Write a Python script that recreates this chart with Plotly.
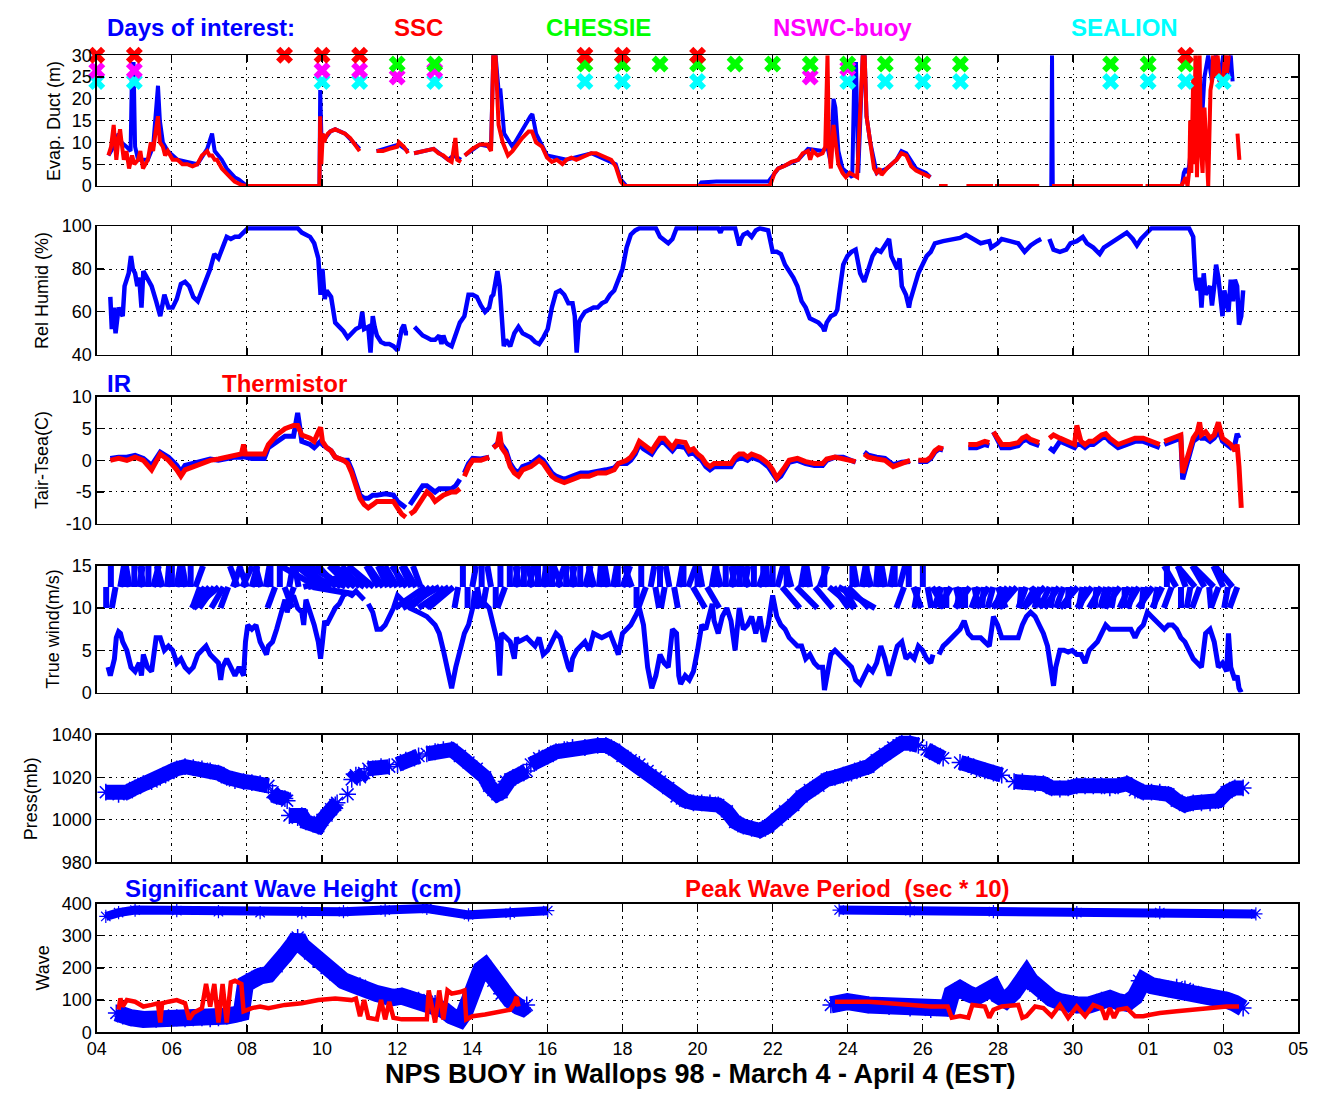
import numpy as np
import plotly.graph_objects as go

# ---------------- DATA (x = day of March; April n = 31 + n) ----------------
tick_days = [4, 6, 8, 10, 12, 14, 16, 18, 20, 22, 24, 26, 28, 30, 32, 34, 36]
tick_labels = ["04", "06", "08", "10", "12", "14", "16", "18", "20", "22", "24",
               "26", "28", "30", "01", "03", "05"]

# Days of interest
ssc_days = [4, 5, 9, 10, 11, 17, 18, 20, 33]
chessie_days = [12, 13, 17, 18, 19, 20, 21, 22, 23, 24, 25, 26, 27, 31, 32, 33]
nswc_days = [4, 5, 10, 11, 12, 13, 23, 24]
nswc_level = [26.5, 26.5, 26.5, 26.5, 25, 26.5, 25, 27]
sealion_days = [4, 5, 10, 11, 13, 17, 18, 20, 24, 25, 26, 27, 31, 32, 33, 34]

# Evaporation duct height (m) - red series
duct_t = [4.31, 4.38, 4.45, 4.52, 4.58, 4.62, 4.66, 4.72, 4.79, 4.86,
          4.94, 5.00, 5.10, 5.16, 5.23, 5.30, 5.36, 5.44, 5.50, 5.56,
          5.63, 5.68, 5.76, 5.82, 5.89, 6.02, 6.15, 6.28, 6.41, 6.55,
          6.68, 6.80, 6.94, 7.00, 7.07, 7.14, 7.20, 7.33, 7.46, 7.55,
          7.67, 7.78, 7.86, 7.99, 9.93,
          9.95, 9.98, 10.02, 10.06, 10.09, 10.15, 10.22, 10.35, 10.48, 10.61,
          10.75, 10.87, 11.00, None,
          11.45, 11.62, 11.79, 12.00, 12.05, 12.18, 12.29, None,
          12.45, 12.71, 12.97, 13.10, 13.23, 13.36, 13.45, 13.55, 13.60, 13.70, None,
          13.80, 14.00, 14.20, 14.40, 14.50, 14.56, 14.62, 14.70, 14.81, 14.95,
          15.07, 15.20, 15.33, 15.50, 15.59, 15.70, 15.86, 15.99, 16.12, 16.25,
          16.40, 16.51, 16.64, 16.77, 17.00, 17.17, 17.30, 17.45, 17.56, 17.70,
          17.82, 17.95, 18.05, 21.89,
          21.95, 22.05, 22.15, 22.30, 22.50, 22.68, 22.80, 22.94, 23.00, 23.07,
          23.20, 23.33, 23.40, 23.46, 23.50, 23.55, 23.62, 23.67, 23.75, 23.86,
          23.95, 24.05, 24.25, 24.40, 24.45, 24.50, 24.60, 24.70, 24.77, 24.85,
          24.90, 25.04, 25.17, 25.30, 25.43, 25.56, 25.69, 25.82, 25.95, 26.08,
          26.20, None,
          26.43, 26.66, None, 27.16, 27.87, None, 27.92, 29.10, None, 29.44, 31.86, None, 31.93, 32.88,
          32.95, 33.00, 33.05, 33.10, 33.12, 33.15, 33.20, 33.22, 33.26, 33.30,
          33.33, 33.37, 33.41, 33.45, 33.50, 33.55, 33.60, 33.66, 33.70, 33.73,
          33.78, 33.85, 33.92, 34.00, 34.05, 34.10, 34.15, None, 34.38, 34.41, 34.43]
duct_red = [7, 9, 14, 6, 11, 13, 10, 6, 8, 4,
            7, 5, 6, 8, 4, 5, 6, 10, 8, 12,
            16, 10, 9, 7, 8, 6, 6, 5, 5, 4.5,
            5, 7, 8, 7, 7, 6, 6, 4, 3, 2,
            1, 0.5, 0.2, 0, 0,
            16, 5, 12, 10, 11, 12, 12.5, 13, 12.5, 12,
            11, 9.5, 8, None,
            8, 8, 8.5, 9, 10, 9, 7.5, None,
            7.5, 8, 8.5, 7.5, 7, 6, 5.5, 11, 6, 5.5, None,
            7, 8.5, 9.5, 9.5, 8, 30, 30, 14, 10, 7,
            8, 9.5, 11, 12.5, 12.5, 10, 9, 6.5, 5.5, 6,
            5, 6, 6.5, 6, 7, 7.5, 7.5, 7, 6.5, 6,
            4.5, 1, 0, 0,
            0.5, 3, 4, 4.5, 5.5, 6, 7.5, 8, 6, 8,
            7, 7.5, 9, 30, 9, 4, 14, 10, 5, 3,
            2, 3, 2, 30, 30, 16, 10, 4, 3, 4,
            2.5, 4, 5, 6, 7.5, 7, 4.5, 3.5, 3, 2.5,
            2, None,
            0, 0, None, 0, 0, None, 0, 0, None, 0, 0, None, 0, 0,
            1, 2, 0, 4, 15, 3, 25, 5, 30, 2,
            12, 30, 8, 3, 18, 6, 0, 22, 24, 30,
            25, 30, 23, 25, 30, 26, 30, None, 12, 9, 6]

# Evaporation duct height (m) - blue series
duct_blue_t = [4.31, 4.45, 4.58, 4.66, 4.79, 4.90, 4.94, 4.98, 5.02, 5.10,
               5.23, 5.36, 5.50, 5.60, 5.63, 5.68, 5.76, 5.89, 6.02, 6.15,
               6.41, 6.68, 6.94, 7.07, 7.14, 7.33, 7.46, 7.67, 7.78, 7.86,
               7.99, 9.93, 9.95, 9.98, 10.09, 10.22, 10.35, 10.61, 10.87, 11.00, None,
               11.45, 12.05, 12.29, None, 12.45, 12.97, 13.36, 13.50, 13.70, None,
               13.80, 14.20, 14.50, 14.56, 14.62, 14.70, 14.75, 14.85, 15.07, 15.33,
               15.55, 15.60, 15.70, 15.99, 16.51, 17.17, 17.82, 17.95, 18.10, 20.04,
               20.10, 20.50, 21.00, 21.50, 21.89, 22.15, 22.68, 22.94, 23.33, 23.46,
               23.55, 23.62, 23.67, 23.75, 23.86, 23.99, 24.12, 24.18, 24.22, 24.28,
               24.40, 24.45, 24.50, 24.60, 24.77, 25.04, 25.30, 25.43, 25.56, 25.82,
               26.08, 26.20, None, 29.42, 29.44, 29.46, None, 32.90, 32.95, 33.00,
               33.05, 33.10, 33.20, 33.30, 33.40, 33.50, 33.60, 33.70, 33.80, 33.90,
               34.00, 34.10, 34.20, 34.25]
duct_blue = [7, 9, 12, 10, 9, 8, 28, 28, 9, 6,
             6, 6, 9, 20, 23, 15, 10, 8, 7, 6,
             5.5, 5, 8.5, 12, 8, 6, 4, 2, 1.5, 1,
             0, 0, 22, 12, 11, 12.5, 13, 12, 9.5, 8.5, None,
             8, 9.5, 8, None, 7.5, 8.5, 6, 7, 6, None,
             7, 9.5, 9, 30, 30, 22, 22, 12, 9, 13,
             16, 16.5, 12, 7, 6, 7.5, 5, 1.5, 0, 0,
             0.8, 1, 1, 0.8, 1, 4, 6, 8.5, 8, 9,
             5, 20, 18, 8, 4, 3, 2, 28, 28, 3,
             30, 30, 16, 10, 3, 4, 6, 8, 7.5, 4,
             3, 2, None, 0, 30, 0, None, 0, 3, 4,
             3, 5, 15, 28, 10, 25, 30, 24, 30, 24,
             30, 25, 30, 24]

# Relative humidity (%)
rh_t = [4.36, 4.40, 4.45, 4.50, 4.58, 4.69, 4.74, 4.85, 4.91, 4.96,
        5.02, 5.08, 5.13, 5.19, 5.24, 5.35, 5.46, 5.58, 5.69, 5.80,
        5.91, 6.02, 6.13, 6.24, 6.35, 6.46, 6.57, 6.69, 6.80, 6.91,
        7.02, 7.13, 7.24, 7.35, 7.46, 7.57, 7.68, 7.79, 7.91, 8.02,
        8.24, 9.35, 9.46, 9.57, 9.68, 9.79, 9.90, 9.96, 10.01, 10.07,
        10.12, 10.24, 10.35, 10.46, 10.57, 10.68, 10.79, 10.90, 11.01, 11.07,
        11.12, 11.23, 11.29, 11.35, 11.40, 11.46, 11.57, 11.68, 11.79, 11.90,
        12.01, 12.07, 12.12, 12.18, 12.23, 12.29, None, 12.46, 12.57, 12.68,
        12.79, 12.90, 13.01, 13.12, 13.18, 13.23, 13.29, 13.34, 13.45, 13.51,
        13.56, 13.67, 13.79, 13.84, 13.90, 14.01, 14.12, 14.23, 14.34, 14.45,
        14.51, 14.56, 14.62, 14.67, 14.73, 14.78, 14.84, 14.90, 15.01, 15.12,
        15.23, 15.34, 15.45, 15.56, 15.67, 15.78, 15.89, 16.01, 16.12, 16.23,
        16.34, 16.45, 16.56, 16.67, 16.73, 16.78, 16.84, 16.89, 17.00, 17.11,
        17.23, 17.34, 17.45, 17.56, 17.67, 17.78, 17.89, 18.00, 18.11, 18.22,
        18.34, 18.45, 18.89, 19.00, 19.22, 19.33, 19.44, 20.55, 20.61, 20.66,
        21.00, 21.11, 21.16, 21.22, 21.33, 21.44, 21.55, 21.66, 21.88, 21.94,
        22.00, 22.11, 22.22, 22.33, 22.44, 22.55, 22.66, 22.77, 22.88, 22.99,
        23.11, 23.22, 23.33, 23.38, 23.44, 23.55, 23.66, 23.72, 23.77, 23.88,
        23.99, 24.10, 24.21, 24.27, 24.33, 24.44, 24.55, 24.66, 24.77, 24.88,
        24.99, 25.10, 25.16, 25.21, 25.32, 25.38, 25.44, 25.55, 25.63, 25.66,
        25.77, 25.88, 25.99, 26.10, 26.21, 26.32, 26.54, 26.77, 26.99, 27.15,
        27.32, 27.54, 27.77, 27.82, 27.99, 28.10, 28.32, 28.54, 28.71, 28.87,
        29.04, 29.15, None, 29.37, 29.48, 29.65, 29.82, 29.93, 30.10, 30.26,
        30.37, 30.54, 30.71, 30.82, 30.98, 31.15, 31.32, 31.43, 31.59, 31.70,
        31.81, 31.98, 32.09, 33.09, 33.20, 33.26, 33.31, 33.37, 33.42, 33.48,
        33.53, 33.65, 33.70, 33.76, 33.81, 33.87, 33.92, 33.98, 34.03, 34.09,
        34.14, 34.20, 34.26, 34.31, 34.37, 34.42, 34.48, 34.53]
rh = [67, 52, 62, 50, 62, 58, 72, 78, 86, 80,
      78, 72, 76, 62, 79, 75, 72, 65, 58, 68,
      62, 62, 66, 73, 74, 72, 67, 65, 70, 74,
      80, 87, 85, 90, 95, 94, 95, 95, 97, 99,
      99, 99, 97, 96, 95, 92, 85, 68, 80, 66,
      70, 67, 55, 53, 51, 48, 50, 52, 53, 60,
      52, 53, 41, 58, 53, 49, 46, 45, 45, 44,
      42, 47, 52, 54, 50, 50, None, 53, 51, 49,
      48, 47, 47, 49, 45, 49, 46, 45, 44, 47,
      50, 55, 58, 64, 68, 68, 67, 63, 60, 62,
      67, 68, 74, 79, 72, 60, 44, 47, 44, 50,
      53, 50, 49, 48, 46, 45, 48, 52, 62, 69,
      70, 68, 64, 64, 58, 41, 55, 57, 60, 61,
      62, 62, 64, 65, 68, 70, 75, 80, 90, 96,
      98, 99, 99, 95, 92, 94, 99, 99, 97, 99,
      99, 91, 94, 96, 97, 95, 98, 99, 98, 93,
      88, 88, 87, 82, 79, 76, 72, 65, 62, 57,
      56, 55, 53, 51, 55, 58, 59, 61, 68, 82,
      86, 88, 89, 82, 78, 74, 80, 86, 89, 88,
      91, 94, 86, 84, 80, 85, 72, 68, 62, 65,
      72, 78, 82, 86, 88, 92, 93, 94, 94.5, 96,
      94, 92, 93, 90, 92, 94, 93, 92, 88, 91,
      93, 94, None, 94, 89, 88, 89, 92, 93, 95,
      92, 90, 87, 90, 92, 94, 96, 97, 94, 91,
      94, 97, 99, 99, 95, 75, 70, 76, 62, 78,
      68, 72, 63, 72, 82, 76, 67, 58, 70, 63,
      60, 75, 65, 75, 72, 54, 58, 70]

# Air - sea temperature difference (C)
dt_t = [4.36, 4.58, 4.80, 5.02, 5.24, 5.46, 5.69, 5.91, 6.13, 6.24,
        6.35, 6.57, 6.80, 7.02, 7.24, 7.46, 7.68, 7.85, 7.91, 7.96,
        8.13, 8.35, 8.46, 8.57, 8.79, 9.01, 9.24, 9.35, 9.46, 9.68,
        9.79, 9.90, 9.96, 10.01, 10.12, 10.24, 10.35, 10.57, 10.68, 10.79,
        10.90, 11.01, 11.12, 11.23, 11.35, 11.46, 11.68, 11.90, 12.01, 12.12,
        12.23, None, 12.34, 12.46, 12.57, 12.68, 12.79, 12.90, 13.01, 13.12,
        13.23, 13.45, 13.56, 13.67, None, 13.79, 13.90, 14.01, 14.23, 14.45,
        None, 14.56, 14.67, 14.73, 14.78, 14.90, 15.01, 15.12, 15.23, 15.34,
        15.56, 15.67, 15.78, 15.89, 16.01, 16.12, 16.23, 16.45, 16.67, 16.89,
        17.11, 17.34, 17.56, 17.78, 17.89, 18.11, 18.22, 18.34, 18.45, 18.56,
        18.67, 18.78, 18.89, 19.00, 19.11, 19.33, 19.44, 19.67, 19.78, 19.89,
        20.00, 20.11, 20.22, 20.33, 20.44, 20.66, 20.89, 21.00, 21.11, 21.22,
        21.33, 21.44, 21.66, 21.88, 22.00, 22.11, 22.22, 22.33, 22.44, 22.66,
        22.88, 23.11, 23.33, 23.44, 23.66, 23.88, 24.10, 24.21, None, 24.44,
        24.55, 24.77, 24.99, 25.21, 25.44, 25.66, None, 25.88, 26.10, 26.21,
        26.32, 26.43, 26.54, None, 27.21, 27.43, 27.65, 27.77, None, 27.88,
        27.99, 28.10, 28.32, 28.54, 28.65, 28.76, 28.87, 28.99, 29.10, None,
        29.37, 29.48, 29.65, 29.87, 30.04, 30.10, 30.21, 30.32, 30.43, 30.54,
        30.76, 30.87, 30.98, 31.20, 31.43, 31.65, 31.87, 32.09, 32.31, None,
        32.43, 32.65, 32.87, 32.92, 33.03, 33.20, 33.31, 33.37, 33.42, 33.53,
        33.65, 33.76, 33.87, 33.92, 33.98, 34.09, 34.20, 34.31, 34.37, 34.42,
        34.48]
dt_thermistor = [0, 0.3, 0, 0.5, 0, -1.5, 1, 0, -1.5, -2.5,
                 -1.5, -1, -0.5, 0, 0.2, 0.5, 0.8, 1.0, 2.5, 1.0,
                 1.0, 1.0, 1.0, 2.5, 4.0, 5.0, 5.5, 5.5, 4.0, 3.5,
                 3.0, 4.5, 5.2, 3.0, 2.0, 1.5, 0.5, 0, -0.5, -2,
                 -4, -6, -7, -7.5, -7, -6.5, -6.5, -6.5, -7.5, -8.5,
                 -9, None, -8.5, -8, -7, -6, -5, -5.5, -6.5, -6,
                 -5.5, -5, -5, -4.5, None, -2.5, -1, 0, 0, 0.5,
                 None, 2, 2.5, 4.5, 2, 1, -1, -2, -2.5, -1.5,
                 -1, -0.5, 0, -0.5, -1.5, -2.5, -3, -3.5, -3, -2.5,
                 -2.5, -2, -2, -1.5, -0.5, 0, 0.5, 1.5, 3, 2.5,
                 2, 1.5, 2.5, 3.5, 3.5, 2, 3, 2.8, 1.5, 1.8,
                 1, 0.5, -0.5, -1, -0.5, -0.5, -0.5, 0.5, 1, 1,
                 0.5, 1, 0.5, -0.5, -1.5, -2.8, -2, -1, 0, 0.3,
                 -0.2, -0.5, -0.5, 0.2, 0.5, 0.3, 0, -0.2, None, 1,
                 0.5, 0.2, 0, -1, -0.5, 0, None, 0, 0, 0.5,
                 1.5, 2, 1.8, None, 2.5, 2.5, 3, 2.8, None, 4.5,
                 3.5, 2.5, 2.5, 2.8, 3.5, 3.8, 3.3, 3, 2.8, None,
                 3.5, 4, 3.5, 3, 2.5, 5.5, 3, 2.5, 3, 3,
                 4, 4.2, 3.5, 2.5, 3, 3.5, 3.5, 3, 2.5, None,
                 3, 3.5, 4, -2, 0, 3.5, 4.5, 6, 4, 4.5,
                 3.5, 4, 6, 5, 3.5, 3, 2.5, 1.5, 2.5, -1,
                 -7.5]
dt_ir = [0.3, 0.5, 0.5, 0.8, 0.3, -0.8, 1.3, 0.5, -0.8, -1.8,
         -0.8, -0.5, -0.2, 0.2, 0, 0.3, 0.5, 0.5, 1.5, 0.5,
         0.3, 0.3, 0.3, 2.0, 3.0, 3.8, 3.8, 7.5, 3.0, 2.5,
         2.0, 2.5, 3.0, 2.5, 2.0, 1.5, 0.5, 0, 0, -1.5,
         -3.5, -5.5, -6, -6, -5.5, -5.5, -5.3, -5.5, -6.5, -7,
         -7.5, None, -7, -6, -5, -4, -4, -4.5, -5, -4.5,
         -4.5, -4.5, -4, -3, None, -2, -0.5, 0.3, 0.2, 0.5,
         None, 2, 2.5, 3, 2.5, 1.5, -0.5, -1.5, -2, -1,
         -0.5, 0, 0.5, 0, -1, -2, -2.5, -3, -2.5, -2,
         -2, -1.8, -1.5, -1.2, -0.5, -0.5, 0, 1, 2.5, 1.8,
         1.3, 1, 2, 2.8, 2.8, 1.5, 2.3, 2, 1, 1.2,
         0.5, 0, -1, -1.5, -1, -1, -1, 0, 0.3, 0.3,
         0, 0.5, 0, -1, -2, -3, -2.5, -1.5, -0.3, 0,
         -0.5, -0.8, -0.8, 0, 0.5, 0.5, 0, -0.3, None, 1.3,
         0.8, 0.5, 0.3, -0.7, -0.3, -0.2, None, -0.2, -0.2, 0.3,
         1.3, 1.8, 1.6, None, 2, 2, 2.5, 2.3, None, 4.5,
         3.2, 2, 2, 2.3, 3, 3.3, 2.8, 2.5, 2.3, None,
         2, 1.5, 3, 2.5, 2, 2.5, 2.5, 2, 2.5, 2.5,
         3.5, 3.7, 3, 2, 2.5, 3, 3, 2.5, 2, None,
         2.5, 3, 3.5, -3, -0.5, 3, 3.5, 4, 3.5, 3.5,
         3, 3.5, 4.5, 4, 3, 2.5, 2, 2.5, 4.2, 3.5,
         None]

# True wind speed (m/s)
wind_t = [4.30, 4.36, 4.47, 4.52, 4.58, 4.63, 4.69, 4.80, 4.91, 5.02,
          5.13, 5.19, 5.24, 5.35, 5.46, 5.52, 5.58, 5.69, 5.80, 5.91,
          6.02, 6.13, 6.24, 6.35, 6.46, 6.57, 6.69, 6.80, 6.91, 7.02,
          7.13, 7.24, 7.30, 7.35, 7.46, 7.57, 7.68, 7.79, 7.91, 7.96,
          8.02, 8.13, 8.24, 8.35, 8.46, 8.52, 8.57, 8.68, 8.79, 8.90,
          9.01, 9.07, 9.13, 9.24, 9.35, 9.46, 9.51, 9.57, 9.68, 9.79,
          9.90, 9.96, 10.01, 10.07, 10.12, 10.24, 10.35, 10.46, 10.57, 10.68,
          10.79, 10.90, 11.01, 11.12, None, 11.23, 11.35, 11.46, 11.57, 11.68,
          11.79, 11.90, 12.01, 12.12, 12.23, 12.34, 12.57, 12.79, 13.01, 13.12,
          13.23, 13.34, 13.45, 13.56, 13.67, 13.79, 13.90, 14.01, 14.06, 14.12,
          14.23, 14.34, 14.45, 14.56, 14.67, 14.73, 14.78, 14.90, 15.01, 15.12,
          15.18, 15.23, 15.45, 15.67, 15.78, 15.89, 16.01, 16.12, 16.23, 16.34,
          16.45, 16.56, 16.62, 16.67, 16.78, 16.89, 17.00, 17.11, 17.23, 17.45,
          17.67, 17.89, 18.00, 18.11, 18.22, 18.34, 18.45, 18.56, 18.67, 18.78,
          18.89, 19.00, 19.11, 19.22, 19.33, 19.44, 19.50, 19.55, 19.67, 19.78,
          19.89, 20.00, 20.11, 20.22, 20.33, 20.39, 20.44, 20.55, 20.66, 20.78,
          20.89, 21.00, 21.11, 21.22, 21.33, 21.44, 21.55, 21.66, 21.77, 21.88,
          22.00, 22.11, 22.22, 22.33, 22.44, 22.55, 22.66, 22.77, 22.88, 22.99,
          23.11, 23.22, 23.33, 23.38, 23.44, 23.55, 23.66, 23.77, 23.88, 23.99,
          24.10, 24.21, 24.33, 24.44, 24.55, 24.66, 24.77, 24.88, 24.99, 25.10,
          25.21, 25.32, 25.44, 25.55, 25.66, 25.77, 25.88, 25.99, 26.10, 26.21,
          26.27, None, 26.43, 26.54, 26.66, 26.77, 26.88, 26.99, 27.10, 27.21,
          27.32, 27.43, 27.54, 27.65, 27.77, 27.88, 27.93, 27.99, 28.10, 28.32,
          28.54, 28.65, 28.76, 28.87, 28.99, 29.10, 29.21, 29.32, 29.43, 29.48,
          29.54, 29.65, 29.76, 29.87, 29.98, 30.10, 30.21, 30.32, 30.43, 30.54,
          30.65, 30.76, 30.87, 30.98, 31.09, 31.32, 31.54, 31.65, 31.76, 31.87,
          31.98, 32.09, 32.20, 32.31, 32.43, 32.54, 32.65, 32.76, 32.87, 32.98,
          33.09, 33.20, 33.31, 33.42, 33.53, 33.65, 33.76, 33.87, 33.98, 34.09,
          34.14, 34.20, 34.31, 34.37, 34.42, 34.48]
wind_spd = [3, 2, 4, 6.5, 7.2, 7, 6, 5, 3, 2.5,
            3.5, 2, 4.5, 3, 2.5, 5, 6.5, 6.5, 5, 5.5,
            5, 3.5, 4, 3, 2.5, 3, 4.5, 5, 5.5, 4.5,
            4, 3.5, 1.5, 3, 4, 3, 2, 3, 2, 6,
            8, 7.5, 8, 6, 5, 4.5, 5.5, 6, 7.5, 9.5,
            11, 9.5, 10.5, 11.5, 10, 9.5, 8, 11, 9.5, 8,
            6, 4, 6, 8.5, 8, 9, 10, 10.5, 11.5, 11.8,
            11.5, 12, 11.5, 11, None, 10.5, 9.5, 7.5, 7.5, 8,
            9, 10, 11.5, 11, 10.5, 10, 9.5, 9, 8, 7,
            5, 3, 0.5, 3, 5, 7, 8, 10, 12, 10,
            11, 10.5, 10, 8, 6, 2, 7, 6.5, 6, 4,
            6.5, 6, 6.5, 5.5, 6.5, 4.5, 5, 6, 7, 6.5,
            4.5, 3, 2.5, 4, 5, 5.5, 6, 5, 7, 6.5,
            7, 4.5, 7, 7.5, 8, 9, 10, 8, 3, 0.5,
            2, 4.5, 3.5, 3, 7.5, 7, 2, 1, 2, 1.5,
            2.5, 5, 8, 7.5, 9.5, 10.5, 8.5, 7, 9, 10,
            8.5, 5, 10, 7.5, 8, 9, 7, 9, 6, 8,
            11.5, 9, 8, 7.5, 6.5, 6, 5.5, 5.5, 4, 4.5,
            3.5, 3, 3, 0.3, 2, 4.5, 5, 4.5, 4, 3.5,
            3, 1.5, 1, 2, 3, 2.5, 3.5, 5.5, 4, 2,
            4, 5.5, 6, 4, 4.5, 4, 5.5, 5, 4, 3.5,
            4.5, None, 4.5, 5.5, 6, 6.5, 7, 7.5, 8.5, 7,
            6.5, 6.5, 6.5, 6, 5.5, 9, 8.5, 8, 6.5, 6.5,
            6.5, 8, 9, 9.5, 9, 8, 7, 5.5, 2.5, 0.8,
            3, 5, 5, 4.8, 5, 4.5, 4.5, 3.5, 5, 5.5,
            6, 7, 8, 7.5, 7.5, 7.5, 7.5, 6.5, 7.5, 8,
            9.5, 9, 8.5, 8, 7.5, 8, 8, 7.5, 6.5, 6,
            5, 4, 3.5, 3, 7, 7.5, 6, 3, 3.5, 2.5,
            7, 3, 1.5, 2, 0.5, 0]

# Wind stick directions (deg clockwise from up), 3-hourly from Mar 4 00h
wind_dir = [None, None, 180, 0, 190, 10, 0, 350,
            0, 10, 350, 0, 15, 0, 345, 5,
            0, 10, 0, 350, 0, 20, 200, 210,
            220, 215, 230, 210, 200, 20, 340, 25,
            340, 15, 0, 345, 10, 0, 200, 0,
            160, 10, 200, 350, 75, 80, 100, 300,
            310, 315, 305, 320, 310, 300, 315, 310,
            320, 305, 315, 310, 330, 325, 335, 330,
            330, 340, 325, 335, 330, 340, 235, 225,
            230, 240, 220, 235, 230, 190, 0, 180,
            10, 170, 0, 190, 350, 180, 0, 200,
            0, 10, 350, 0, 15, 345, 0, 10,
            355, 0, 20, 340, 0, 10, 350, 0,
            15, 0, 345, 5, 0, 350, 10, 0,
            20, 0, 340, 180, 0, 200, 10, 170,
            0, 190, 350, 170, 10, 0, 20, 150,
            0, 350, 150, 10, 0, 345, 0, 15,
            350, 0, 10, 340, 0, 20, 0, 355,
            0, 15, 140, 0, 345, 135, 10, 0,
            350, 140, 20, 0, 130, 145, 120, 150,
            135, 0, 350, 10, 0, 345, 5, 0,
            350, 10, 0, 15, 200, 0, 160, 190,
            0, 170, 150, 160, 200, 180, 210, 165,
            190, 180, 215, 170, 200, 185, 210, 195,
            160, 200, 215, 210, 220, 185, 200, 150,
            210, 195, 225, 205, 190, 215, 200, 180,
            205, 220, 190, 200, 215, 185, 210, 195,
            200, 190, 215, 180, 205, 195, 210, 185,
            200, 215, 190, 205, 0, 200, 330, 180,
            340, 190, 320, 200, 330, 175, 315, 200,
            335, 190, 320, 200, None, None, None, None]

# Sea-level pressure (mb)
press_t = [4.24, 4.58, 4.80, 5.02, 5.24, 5.46, 5.69, 5.91, 6.13, 6.35,
           6.57, 6.80, 7.02, 7.24, 7.46, 7.68, 7.91, 8.13, 8.35, 8.57,
           None, 8.68, 8.79, 9.01, 9.07, None, 9.13, 9.35, 9.46, 9.57,
           9.79, 9.90, 10.01, 10.12, 10.24, 10.35, 10.40, None, 10.68, None,
           10.79, 10.90, None, 11.01, 11.12, None, 11.23, 11.35, 11.57, 11.79,
           None, 12.01, 12.23, 12.46, 12.57, None, 12.79, 13.01, 13.23, 13.45,
           13.67, 13.90, 14.12, 14.34, 14.45, 14.56, 14.67, 14.78, 14.90, 15.01,
           15.23, 15.45, None, 15.56, 15.78, 16.01, 16.23, 16.45, 16.67, 17.00,
           17.34, 17.56, 17.78, 18.00, 18.22, 18.45, 18.67, 18.89, 19.00, 19.22,
           19.44, 19.67, 19.89, 20.11, 20.33, 20.55, 20.78, 21.00, 21.22, 21.44,
           21.66, 21.88, 22.11, 22.33, 22.55, 22.77, 22.99, 23.22, 23.44, 23.66,
           23.88, 24.10, 24.33, 24.55, 24.77, 24.99, 25.21, 25.44, 25.66, 25.88,
           None, 26.10, 26.32, 26.54, None, 26.99, 27.21, 27.43, 27.65, 27.88,
           28.10, None, 28.43, 28.65, 28.99, 29.21, 29.43, 29.65, 29.87, 30.10,
           30.32, 30.54, 30.76, 30.98, 31.20, 31.43, 31.65, 31.87, 32.09, 32.31,
           32.54, 32.76, 32.98, 33.20, 33.42, 33.65, 33.87, 34.09, 34.31, 34.53]
press = [1013, 1012, 1013, 1015, 1017, 1018, 1020, 1022, 1024, 1025,
         1024.5, 1024, 1023, 1022, 1020, 1018.5, 1018, 1017.5, 1017, 1016,
         None, 1013, 1011, 1010, 1009, None, 1002, 1001, 1002, 999,
         998, 997, 1000, 1002, 1005, 1007, 1008, None, 1012, None,
         1019, 1021, None, 1020, 1022, None, 1024, 1024, 1025, 1025,
         None, 1026, 1028, 1029, 1030, None, 1031, 1032, 1033, 1033,
         1030, 1027, 1024, 1020, 1016, 1014, 1012, 1013, 1018, 1019,
         1021, 1023, None, 1026, 1029, 1030, 1032, 1033, 1034, 1034,
         1035, 1035, 1033, 1030, 1028, 1026, 1023, 1020, 1018, 1015,
         1011, 1009, 1008, 1008, 1008, 1007, 1004, 999, 997, 996,
         995, 997, 1000, 1004, 1007, 1011, 1014, 1016, 1019, 1020,
         1021, 1022, 1024, 1025, 1028, 1031, 1034, 1036, 1036, 1035,
         None, 1033, 1031, 1029, None, 1027, 1026, 1024, 1023, 1022,
         1021, None, 1018, 1018, 1017, 1017, 1015, 1014.5, 1015, 1016,
         1016, 1016, 1016, 1015, 1016, 1017, 1014, 1013, 1013, 1013,
         1012, 1009, 1007, 1008, 1008, 1008, 1009, 1013, 1015, 1015]

# Significant wave height (cm)
hs_t = [4.52, 4.69, 4.91, 5.24, 5.58, 5.91, 6.13, 6.35, 6.57, 6.80,
        7.02, 7.24, 7.46, 7.68, 7.85, 7.96, 8.13, 8.35, 8.57, 8.79,
        9.01, 9.24, 9.35, 9.46, 9.68, 9.90, 10.12, 10.35, 10.57, 10.79,
        11.01, 11.23, 11.46, 11.68, 11.90, 12.12, 12.34, 12.57, 12.79, 13.01,
        13.23, 13.45, 13.67, 13.79, 13.90, 14.12, 14.23, 14.34, 14.45, 14.56,
        14.78, 15.01, 15.23, 15.34, 15.45, None, 23.55, 23.77, 23.99, 24.55,
        25.10, 25.66, 26.21, 26.66, 26.77, 26.99, 27.21, 27.43, 27.65, 27.88,
        27.99, 28.21, 28.43, 28.65, 28.76, 28.87, 28.99, 29.21, 29.43, 29.65,
        29.87, 30.10, 30.43, 30.76, 30.98, 31.20, 31.43, 31.65, 31.76, 31.87,
        32.09, 32.31, 32.54, 32.76, 32.98, 33.20, 33.42, 33.65, 33.87, 34.09,
        34.31, 34.53]
hs = [60, 50, 45, 40, 40, 45, 45, 42, 45, 45,
      42, 45, 50, 55, 60, 150, 165, 175, 180, 205,
      240, 275, 295, 270, 245, 220, 200, 180, 160, 150,
      145, 130, 120, 110, 108, 112, 105, 100, 95, 90,
      70, 50, 40, 60, 100, 160, 195, 205, 185, 160,
      120, 100, 80, 75, 85, None, 85, 90, 95, 85,
      80, 75, 70, 75, 120, 135, 120, 110, 125, 140,
      115, 100, 125, 150, 180, 160, 145, 120, 105, 95,
      85, 85, 85, 100, 105, 95, 90, 110, 160, 160,
      145, 140, 135, 140, 135, 125, 115, 110, 105, 100,
      90, 75]

# Upper blue wave band (plotted near 370-385)
wave_top_t = [4.24, 4.58, 5.02, 6.13, 7.24, 8.35, 9.46, 10.57, 11.68, 12.79,
              13.90, 15.01, 16.01, None, 23.77, 25.66, 27.88, 30.10, 32.31, 34.87]
wave_top = [360, 372, 380, 378, 375, 372, 372, 375, 380, 385,
            365, 370, 378, None, 380, 378, 375, 372, 372, 368]

# Peak wave period (sec*10)
tp_t = [4.58, 4.63, 4.69, 4.80, 5.02, 5.24, 5.46, 5.63, 5.69, 5.74,
        5.91, 6.13, 6.35, 6.46, 6.57, 6.80, 6.91, 7.02, 7.13, 7.24,
        7.35, 7.46, 7.57, 7.68, 7.85, 7.91, 8.13, 8.35, 8.57, 8.79,
        9.01, 9.46, 9.90, 10.35, 10.79, 10.90, 11.01, 11.12, 11.23, 11.46,
        11.57, 11.68, 11.79, 11.90, 12.12, 12.34, 12.79, 12.84, 13.01, 13.12,
        13.23, 13.34, 13.45, 13.67, 13.79, 13.84, 14.01, 14.34, 14.56, 14.78,
        15.01, 15.12, 15.18, 15.23, None, 23.66, 24.55, 25.10, 25.66, 26.21,
        26.66, 26.77, 26.99, 27.21, 27.32, 27.65, 27.77, 27.88, 28.10, 28.43,
        28.54, 28.65, 28.76, 28.99, 29.21, 29.43, 29.65, 29.87, 30.10, 30.32,
        30.54, 30.76, 30.87, 30.98, 31.09, 31.20, 31.43, 31.65, 31.87, 32.09,
        32.31, 32.76, 33.20, 33.65, 34.09, 34.42]
tp = [70, 105, 80, 100, 95, 80, 85, 90, 30, 90,
      95, 100, 90, 40, 60, 75, 150, 80, 150, 30,
      150, 30, 155, 160, 150, 65, 75, 80, 75, 80,
      85, 90, 100, 105, 100, 105, 50, 100, 45, 40,
      100, 40, 95, 45, 40, 40, 40, 130, 30, 130,
      40, 130, 120, 125, 130, 40, 50, 55, 60, 65,
      70, 90, 110, 80, None, 95, 95, 90, 85, 80,
      80, 45, 50, 45, 85, 80, 45, 70, 80, 85,
      85, 45, 50, 80, 75, 50, 85, 45, 80, 50,
      85, 75, 40, 75, 45, 70, 75, 50, 50, 55,
      60, 65, 70, 75, 80, 80]

# ---------------- LAYOUT HELPERS ----------------
W, H = 1322, 1101
OFF = 8  # page body margin of the browser
XL, XR = 88, 1308
PANELS = [(46, 179), (220, 351), (394, 523), (566, 695), (738, 868), (910, 1041)]
YRANGES = [[0, 30], [40, 100], [-10, 10], [0, 15], [980, 1040], [0, 400]]
ytick_vals = [[0, 5, 10, 15, 20, 25, 30], [40, 60, 80, 100], [-10, -5, 0, 5, 10],
              [0, 5, 10, 15], [980, 1000, 1020, 1040], [0, 100, 200, 300, 400]]
ytick_text = [["0", "5", "10", "15", "20", "25", "30"], ["40", "60", "80", "100"],
              ["-10", "-5", "0", "5", "10"], ["0", "5", "10", "15"],
              ["980", "1000", "1020", "1040"], ["0", "100", "200", "300", "400"]]
ytitles = ["Evap. Duct (m)", "Rel Humid (%)", "Tair-Tsea(C)", "True wind(m/s)",
           "Press(mb)", "Wave"]
ytitle_x = [44, 33, 33, 44, 21, 33]

FONT = "Liberation Sans, Arial, Helvetica, sans-serif"
BLUE, RED, GREEN, MAG, CYAN = "#0000ff", "#ff0000", "#00ff00", "#ff00ff", "#00ffff"


def px(x):
    return (x - OFF) / W


def py(y):
    return 1 - (y - OFF) / H


fig = go.Figure()


def ax(i):
    return ("x" if i == 1 else f"x{i}"), ("y" if i == 1 else f"y{i}")


# Panel 1: evaporation duct
xa, ya = ax(1)
fig.add_trace(go.Scatter(x=duct_blue_t, y=duct_blue, mode="lines", line=dict(color=BLUE, width=4),
                         xaxis=xa, yaxis=ya))
fig.add_trace(go.Scatter(x=duct_t, y=duct_red, mode="lines", line=dict(color=RED, width=4),
                         xaxis=xa, yaxis=ya))
for days, lev, col in [(sealion_days, [24] * len(sealion_days), CYAN),
                       (nswc_days, nswc_level, MAG),
                       (chessie_days, [28] * len(chessie_days), GREEN),
                       (ssc_days, [30] * len(ssc_days), RED)]:
    fig.add_trace(go.Scatter(x=days, y=lev, mode="markers", cliponaxis=False,
                             marker=dict(symbol="x", size=15, color=col, line=dict(width=0)),
                             xaxis=xa, yaxis=ya))

# Panel 2: RH
xa, ya = ax(2)
fig.add_trace(go.Scatter(x=rh_t, y=rh, mode="lines", line=dict(color=BLUE, width=4.5),
                         xaxis=xa, yaxis=ya))

# Panel 3: Tair - Tsea
xa, ya = ax(3)
fig.add_trace(go.Scatter(x=dt_t, y=dt_ir, mode="lines", line=dict(color=BLUE, width=5),
                         xaxis=xa, yaxis=ya))
fig.add_trace(go.Scatter(x=dt_t, y=dt_thermistor, mode="lines", line=dict(color=RED, width=5),
                         xaxis=xa, yaxis=ya))

# Panel 4: wind sticks + speed
xa, ya = ax(4)
STICK_T0, STICK_DT, BASE, R, KX = 4.0, 0.125, 12.5, 5.0, 0.226
sx, sy = [], []
for i, d in enumerate(wind_dir):
    if d is None:
        continue
    t0 = STICK_T0 + i * STICK_DT
    th = np.radians(d)
    dy, dx = R * np.cos(th), R * np.sin(th)
    s = min(1.0, 2.5 / abs(dy)) if abs(dy) > 1e-9 else 1.0
    sx += [t0, t0 + dx * s * KX, None]
    sy += [BASE, BASE + dy * s, None]
fig.add_trace(go.Scatter(x=sx, y=sy, mode="lines", line=dict(color=BLUE, width=6),
                         xaxis=xa, yaxis=ya))
fig.add_trace(go.Scatter(x=wind_t, y=wind_spd, mode="lines", line=dict(color=BLUE, width=5),
                         xaxis=xa, yaxis=ya))

# Panel 5: pressure
xa, ya = ax(5)
fig.add_trace(go.Scatter(x=press_t, y=press, mode="lines+markers",
                         line=dict(color=BLUE, width=15),
                         marker=dict(symbol="asterisk-open", size=14, color=BLUE,
                                     line=dict(color=BLUE, width=1.5)),
                         xaxis=xa, yaxis=ya))

# Panel 6: waves
xa, ya = ax(6)
fig.add_trace(go.Scatter(x=wave_top_t, y=wave_top, mode="lines+markers",
                         line=dict(color=BLUE, width=9),
                         marker=dict(symbol="asterisk-open", size=11, color=BLUE,
                                     line=dict(color=BLUE, width=1.2)),
                         xaxis=xa, yaxis=ya))
fig.add_trace(go.Scatter(x=hs_t, y=hs, mode="lines+markers",
                         line=dict(color=BLUE, width=17),
                         marker=dict(symbol="asterisk-open", size=14, color=BLUE,
                                     line=dict(color=BLUE, width=1.5)),
                         xaxis=xa, yaxis=ya))
fig.add_trace(go.Scatter(x=tp_t, y=tp, mode="lines", line=dict(color=RED, width=4.5),
                         xaxis=xa, yaxis=ya))

# Axes
layout = dict(width=W, height=H, margin=dict(l=0, r=0, t=0, b=0, pad=0),
              paper_bgcolor="white", plot_bgcolor="white", showlegend=False,
              hovermode=False, font=dict(family=FONT, size=18, color="black"))
grid_style = dict(showgrid=True, gridcolor="black", gridwidth=1, griddash="3px,4px,1px,4px",
                  zeroline=False, showline=True, linecolor="black", linewidth=1.5,
                  mirror="ticks", ticks="inside", ticklen=7, tickwidth=1.2, tickcolor="black",
                  tickfont=dict(family=FONT, size=18, color="black"))
for i, (top, bot) in enumerate(PANELS, start=1):
    xk = "xaxis" if i == 1 else f"xaxis{i}"
    yk = "yaxis" if i == 1 else f"yaxis{i}"
    xa, ya = ax(i)
    layout[xk] = dict(domain=[px(XL), px(XR)], anchor=ya, range=[4, 36],
                      tickmode="array", tickvals=tick_days, ticktext=tick_labels,
                      showticklabels=(i == 6), **grid_style)
    if i > 1:
        layout[xk]["matches"] = "x"
    layout[yk] = dict(domain=[py(bot), py(top)], anchor=xa, range=YRANGES[i - 1],
                      tickmode="array", tickvals=ytick_vals[i - 1], ticktext=ytick_text[i - 1],
                      **grid_style)
fig.update_layout(**layout)

ann = []
ylab_font = dict(family=FONT, size=18, color="black")
for i, (top, bot) in enumerate(PANELS):
    ann.append(dict(x=px(ytitle_x[i]), y=py((top + bot) / 2), xref="paper", yref="paper",
                    text=ytitles[i], textangle=-90, showarrow=False, font=ylab_font,
                    xanchor="center", yanchor="middle"))


def label(text, x, y, color, size=24, anchor="left"):
    ann.append(dict(x=px(x), y=py(y), xref="paper", yref="paper", text=f"<b>{text}</b>",
                    showarrow=False, xanchor=anchor, yanchor="middle",
                    font=dict(family=FONT, size=size, color=color)))


label("Days of interest:", 96, 18, BLUE)
label("SSC", 415, 18, RED, anchor="center")
label("CHESSIE", 597, 18, GREEN, anchor="center")
label("NSWC-buoy", 845, 18, MAG, anchor="center")
label("SEALION", 1132, 18, CYAN, anchor="center")
label("IR", 96, 380, BLUE)
label("Thermistor", 213, 380, RED)
label("Significant Wave Height\u00a0 (cm)", 115, 895, BLUE)
label("Peak Wave Period\u00a0 (sec * 10)", 683, 895, RED)
label("NPS BUOY in Wallops 98 - March 4 - April 4 (EST)", 701, 1084, "black", size=27,
      anchor="center")
fig.update_layout(annotations=ann)

fig.write_html("out.html", include_plotlyjs=True, full_html=True,
               config={"displayModeBar": False, "staticPlot": True})
